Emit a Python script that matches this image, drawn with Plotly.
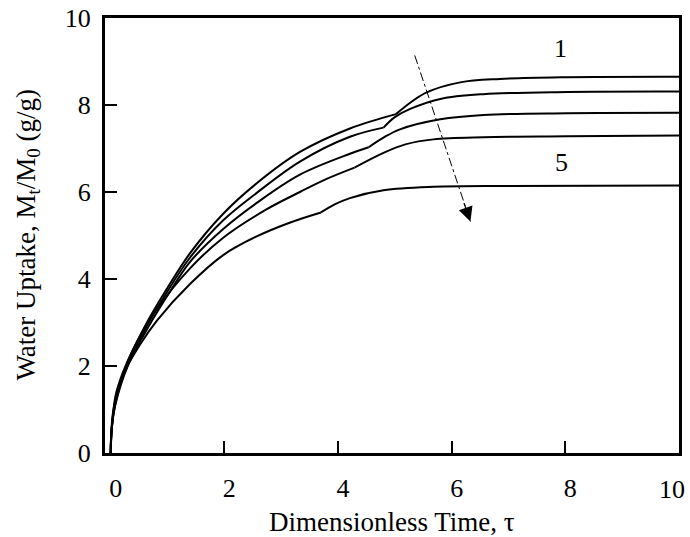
import plotly.graph_objects as go

# Water uptake curves: each split at its kink into a rising branch and a plateau branch
c1_rise_x = [0, 0.02, 0.08, 0.27, 0.66, 1.0, 1.4, 1.98, 2.57, 3.33, 4.21, 5.02]
c1_rise_y = [0, 0.6, 1.15, 2.0, 3.05, 3.8, 4.6, 5.5, 6.2, 6.92, 7.46, 7.79]
c1_flat_x = [5.02, 5.3, 5.56, 6.15, 6.85, 8.03, 10]
c1_flat_y = [7.79, 8.08, 8.29, 8.52, 8.60, 8.64, 8.65]

c2_rise_x = [0, 0.02, 0.08, 0.28, 0.67, 1.0, 1.4, 1.98, 2.57, 3.33, 4.21, 4.80]
c2_rise_y = [0, 0.6, 1.12, 2.0, 3.0, 3.72, 4.5, 5.35, 5.98, 6.70, 7.27, 7.48]
c2_flat_x = [4.80, 5.0, 5.27, 5.80, 6.56, 8.03, 10]
c2_flat_y = [7.48, 7.72, 7.91, 8.14, 8.25, 8.30, 8.31]

c3_rise_x = [0, 0.02, 0.08, 0.3, 0.7, 1.0, 1.4, 1.98, 2.57, 3.33, 4.21, 4.54]
c3_rise_y = [0, 0.58, 1.1, 2.0, 2.98, 3.62, 4.4, 5.15, 5.75, 6.40, 6.88, 7.03]
c3_flat_x = [4.54, 4.8, 5.09, 5.80, 6.56, 8.03, 10]
c3_flat_y = [7.03, 7.25, 7.44, 7.67, 7.77, 7.81, 7.82]

c4_rise_x = [0, 0.02, 0.1, 0.4, 0.81, 1.4, 1.98, 2.74, 3.33, 3.8, 4.29]
c4_rise_y = [0, 0.55, 1.4, 2.4, 3.3, 4.25, 4.95, 5.6, 6.0, 6.3, 6.56]
c4_flat_x = [4.29, 4.8, 5.2, 5.68, 6.56, 8.03, 10]
c4_flat_y = [6.56, 6.90, 7.10, 7.21, 7.26, 7.28, 7.30]

c5_rise_x = [0, 0.01, 0.05, 0.22, 0.52, 0.81, 1.4, 1.98, 2.57, 3.16, 3.70]
c5_rise_y = [0, 0.45, 1.0, 1.8, 2.5, 3.04, 3.89, 4.55, 4.98, 5.3, 5.53]
c5_flat_x = [3.70, 3.95, 4.21, 4.80, 5.68, 7.0, 10]
c5_flat_y = [5.53, 5.72, 5.86, 6.04, 6.12, 6.14, 6.15]

curve_labels = ["1", "5"]
label_x = [7.91, 7.94]
label_y = [9.30, 6.67]

# Trend arrow from curve 1 towards curve 5
arrow_x = [5.35, 6.33]
arrow_y = [9.14, 5.32]

x_tick_vals = [0, 2, 4, 6, 8]
x_end_tick = 10
y_tick_vals = [0, 2, 4, 6, 8, 10]
inner_tick_vals = [2, 4, 6, 8]

FONT = "Liberation Serif"
INK = "black"

fig = go.Figure()

branches = [
    (c1_rise_x, c1_rise_y), (c1_flat_x, c1_flat_y),
    (c2_rise_x, c2_rise_y), (c2_flat_x, c2_flat_y),
    (c3_rise_x, c3_rise_y), (c3_flat_x, c3_flat_y),
    (c4_rise_x, c4_rise_y), (c4_flat_x, c4_flat_y),
    (c5_rise_x, c5_rise_y), (c5_flat_x, c5_flat_y),
]
for bx, by in branches:
    fig.add_trace(go.Scatter(
        x=bx, y=by, mode="lines",
        line=dict(color=INK, width=2, shape="spline", smoothing=1.0),
        showlegend=False, hoverinfo="skip",
    ))

# dash-dot shaft of the arrow (on the overlay axis that carries the inner ticks)
fig.add_trace(go.Scatter(
    x=arrow_x, y=arrow_y, mode="lines", xaxis="x2",
    line=dict(color=INK, width=1, dash="dashdot"),
    showlegend=False, hoverinfo="skip",
))

# arrowhead at the tip
fig.add_annotation(
    x=arrow_x[1], y=arrow_y[1], ax=-7, ay=-20,
    showarrow=True, arrowhead=2, arrowsize=2.4, arrowwidth=1.2,
    arrowcolor=INK, text="",
)

for t, lx, ly in zip(curve_labels, label_x, label_y):
    fig.add_annotation(
        x=lx, y=ly, text=t, showarrow=False,
        font=dict(family=FONT, size=26, color=INK),
    )

# last x tick label, pulled in from the right edge of the page
fig.add_annotation(
    x=x_end_tick, xref="x", y=0, yref="paper", yshift=-36, xshift=-7,
    text=str(x_end_tick), showarrow=False,
    xanchor="center", yanchor="middle",
    font=dict(family=FONT, size=26, color=INK),
)

# axis titles
fig.add_annotation(
    xref="paper", yref="paper", x=0.5, y=0, yshift=-69,
    text="Dimensionless Time, \u03c4", showarrow=False,
    xanchor="center", yanchor="middle",
    font=dict(family=FONT, size=27, color=INK),
)
fig.add_annotation(
    xref="paper", yref="paper", x=0, y=0.5, xshift=-78,
    text="Water Uptake, M<sub>t</sub>/M<sub>0</sub> (g/g)", showarrow=False,
    textangle=-90, xanchor="center", yanchor="middle",
    font=dict(family=FONT, size=27, color=INK),
)

fig.update_layout(
    width=690, height=537,
    margin=dict(l=105, r=11, t=18, b=84, autoexpand=False),
    paper_bgcolor="white", plot_bgcolor="white",
    font=dict(family=FONT, color=INK),
    xaxis=dict(
        range=[-0.1, 10], tickvals=x_tick_vals, ticks="",
        showline=True, linewidth=3, linecolor=INK, mirror=True,
        showgrid=False, zeroline=False, automargin=False,
        tickfont=dict(family=FONT, size=26, color=INK),
        ticklabelstandoff=10, ticklabelshift=5,
    ),
    xaxis2=dict(
        overlaying="x", matches="x", anchor="y", side="bottom",
        tickvals=inner_tick_vals, ticks="inside", ticklen=12, tickwidth=2,
        tickcolor=INK, showticklabels=False, showline=False,
        showgrid=False, zeroline=False, automargin=False,
    ),
    yaxis=dict(
        range=[0, 10], tickvals=y_tick_vals, ticks="inside",
        ticklen=12, tickwidth=2, tickcolor=INK,
        showline=True, linewidth=3, linecolor=INK, mirror=True,
        showgrid=False, zeroline=False, automargin=False,
        tickfont=dict(family=FONT, size=26, color=INK),
        ticklabelstandoff=6, ticklabeloverflow="allow",
    ),
)

fig.write_html("out.html")
